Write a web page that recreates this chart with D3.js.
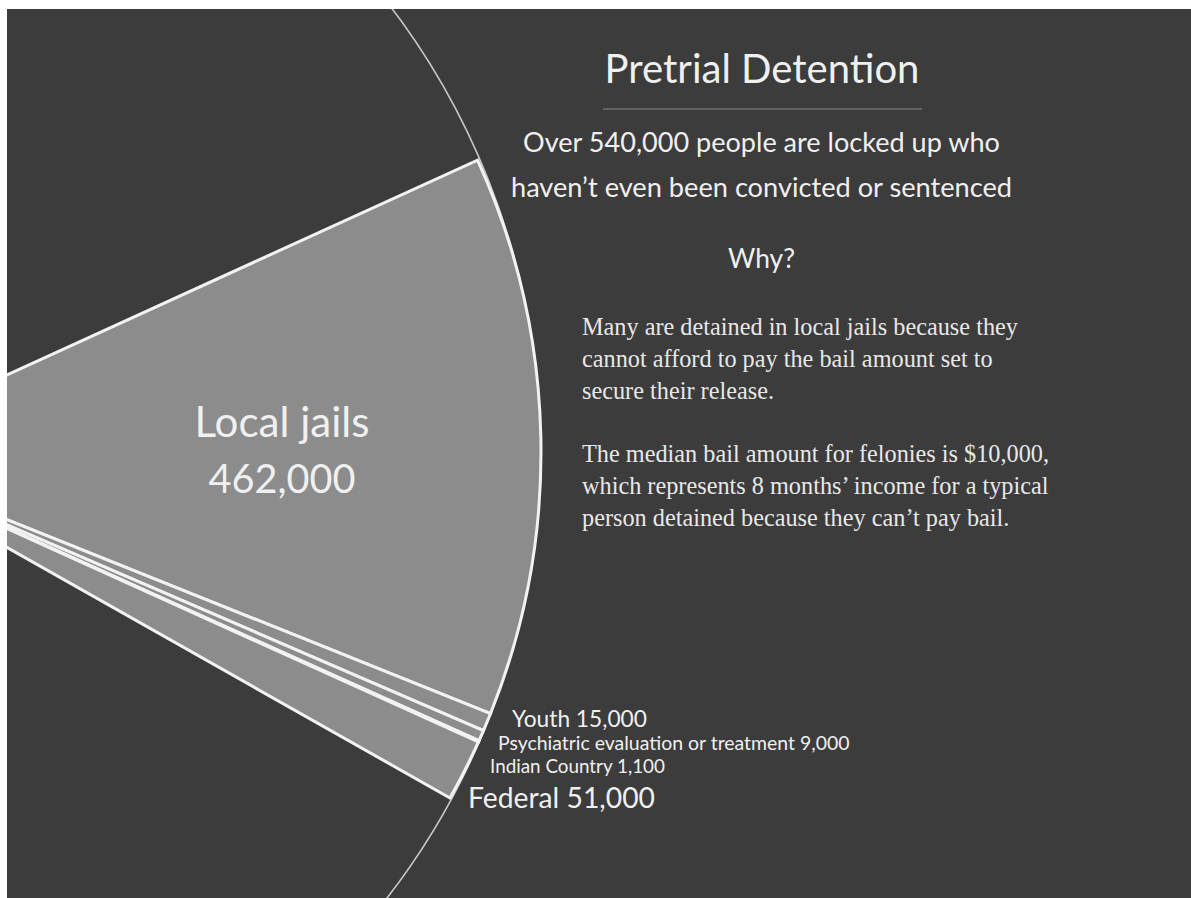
<!DOCTYPE html>
<html>
<head>
<meta charset="utf-8">
<script src="https://cdn.jsdelivr.net/npm/d3@7"></script>
<style>
  html, body { margin: 0; padding: 0; background: #ffffff; }
  svg { display: block; }
</style>
</head>
<body>
<svg id="chart" width="1191" height="898"></svg>
<script>
// ---------------- DATA ----------------
const categories = ["Local jails", "Youth", "Psychiatric evaluation or treatment", "Indian Country", "Federal"];
const values = [462000, 15000, 9000, 1100, 51000];
const titleText = "Pretrial Detention";
const subtitleLines = ["Over 540,000 people are locked up who", "haven\u2019t even been convicted or sentenced"];
const whyText = "Why?";
const bodyLines1 = ["Many are detained in local jails because they", "cannot afford to pay the bail amount set to", "secure their release."];
const bodyLines2 = ["The median bail amount for felonies is $10,000,", "which represents 8 months\u2019 income for a typical", "person detained because they can\u2019t pay bail."];

// ---------------- LAYOUT ----------------
const W = 1191, H = 898;
const BG = "#3c3c3c", FILL = "#8c8c8c", LINE = "#f2f2f2", TEXT = "#f0f0f0";
const apex = [-162, 452], wedgeR = 703;
const circleC = [-192, 450], circleR = 732;
const deg = Math.PI / 180;
const startA = 65.47 * deg, endA = 119.48 * deg;
const fmt = d3.format(",");
const sans = "Lato, 'Open Sans', sans-serif";
const serif = "'Liberation Serif', 'DejaVu Serif', serif";

const svg = d3.select("#chart");
svg.append("rect").attr("width", W).attr("height", H).attr("fill", BG);

// full pie outline
svg.append("circle")
  .attr("cx", circleC[0]).attr("cy", circleC[1]).attr("r", circleR)
  .attr("fill", "none").attr("stroke", "#c8c8c8").attr("stroke-width", 1.6);

// pretrial wedge
const data = categories.map((c, i) => ({ name: c, value: values[i] }));
const pie = d3.pie().sort(null).value(d => d.value).startAngle(startA).endAngle(endA);
const arc = d3.arc().innerRadius(0).outerRadius(wedgeR);
const g = svg.append("g").attr("transform", `translate(${apex[0]},${apex[1]})`);
g.selectAll("path.slice").data(pie(data)).join("path")
  .attr("class", "slice")
  .attr("d", arc)
  .attr("fill", FILL)
  .attr("stroke", LINE)
  .attr("stroke-width", 3)
  .attr("stroke-linejoin", "miter");

// helper: fit text to a target width
function fitText(sel, targetW) {
  const node = sel.node();
  const size = parseFloat(sel.attr("font-size"));
  const w = node.getComputedTextLength();
  if (w > 0) sel.attr("font-size", (size * targetW / w).toFixed(2));
  return sel;
}
function addText(str, x, y, anchor, family, size, targetW, color) {
  const t = svg.append("text")
    .attr("x", x).attr("y", y)
    .attr("text-anchor", anchor)
    .attr("font-family", family)
    .attr("font-size", size)
    .attr("fill", color || TEXT)
    .text(str);
  if (targetW) fitText(t, targetW);
  return t;
}

// slice labels
const labelPos = [
  { x: 282, y: 437, y2: 493, w: 175, w2: 147 },
  { x: 512, y: 727, w: 135 },
  { x: 498, y: 750, w: 352 },
  { x: 490, y: 773, w: 175 },
  { x: 468, y: 808, w: 187 }
];
addText(categories[0], labelPos[0].x, labelPos[0].y, "middle", sans, 34, labelPos[0].w);
addText(fmt(values[0]), labelPos[0].x, labelPos[0].y2, "middle", sans, 34, labelPos[0].w2);
for (let i = 1; i < categories.length; i++) {
  const p = labelPos[i];
  addText(categories[i] + " " + fmt(values[i]), p.x, p.y, "start", sans, 18, p.w);
}

// title block
addText(titleText, 762, 83, "middle", sans, 42, 315);
svg.append("line").attr("x1", 603).attr("x2", 922).attr("y1", 109).attr("y2", 109)
  .attr("stroke", "#8a8a8a").attr("stroke-width", 1);
addText(subtitleLines[0], 761.5, 152, "middle", sans, 26, 477);
addText(subtitleLines[1], 761.5, 197, "middle", sans, 26, 501);
addText(whyText, 761.5, 268, "middle", sans, 27, 67);

// body text
const b0 = addText(bodyLines1[0], 582, 335, "start", serif, 20, 436, "#e8e8e8");
const bodySize = b0.attr("font-size");
[[bodyLines1, [335, 367, 399]], [bodyLines2, [462, 494, 526]]].forEach(([lines, ys], k) => {
  lines.forEach((s, i) => {
    if (k === 0 && i === 0) return;
    addText(s, 582, ys[i], "start", serif, bodySize, null, "#e8e8e8");
  });
});

// scan margins (white edges of the source image)
svg.append("rect").attr("x", 0).attr("y", 0).attr("width", W).attr("height", 9).attr("fill", "#ffffff");
svg.append("rect").attr("x", 0).attr("y", 0).attr("width", 7).attr("height", H).attr("fill", "#ffffff");
</script>
</body>
</html>
